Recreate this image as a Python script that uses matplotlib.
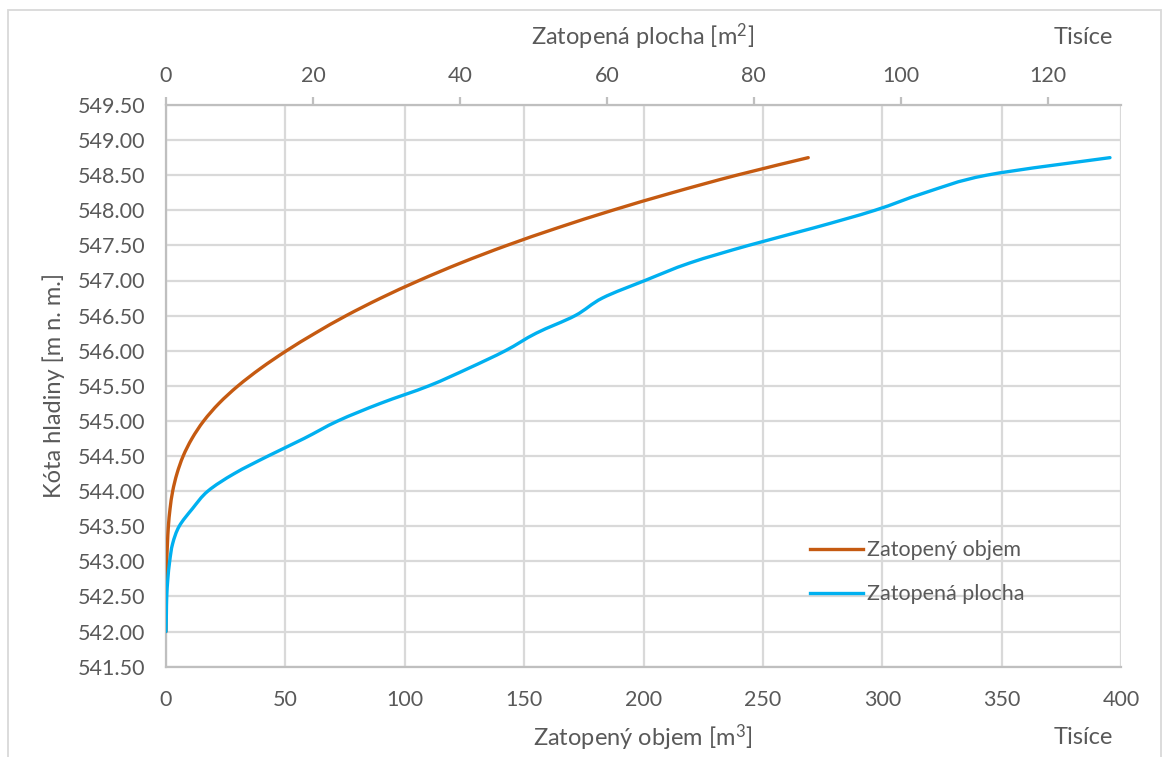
import matplotlib
matplotlib.use("Agg")
import matplotlib.pyplot as plt
from matplotlib.path import Path
from matplotlib.patches import PathPatch, Rectangle
from matplotlib.lines import Line2D
import numpy as np

plt.rcParams['font.family'] = ['Lato', 'DejaVu Sans']
plt.rcParams['mathtext.default'] = 'regular'

# Water level [m a.s.l.]
levels = [542.00, 542.25, 542.50, 542.75, 543.00, 543.25, 543.50, 543.75,
          544.00, 544.25, 544.50, 544.75, 545.00, 545.25, 545.50, 545.75,
          546.00, 546.25, 546.50, 546.75, 547.00, 547.25, 547.50, 547.75,
          548.00, 548.25, 548.50, 548.75]

# Flooded volume [thousand m3]
volume = [0.0, 0.01, 0.03, 0.1, 0.3, 0.6, 1.0, 1.7,
          2.8, 4.6, 7.2, 10.9, 15.8, 22.2, 30.2, 39.7,
          50.5, 62.5, 75.5, 90.0, 106.0, 123.5, 142.8, 164.0,
          187.0, 212.0, 239.0, 269.0]

# Flooded area [thousand m2]
area = [0.0, 0.05, 0.1, 0.25, 0.5, 0.9, 1.8, 3.6,
        5.7, 9.3, 13.9, 18.8, 23.4, 29.2, 35.8, 41.2,
        46.2, 50.4, 55.7, 59.4, 65.2, 71.3, 79.3, 88.2,
        96.5, 103.3, 111.7, 128.5]

y_ticks = np.arange(541.5, 549.51, 0.5)
x_bottom_ticks = [0, 50, 100, 150, 200, 250, 300, 350, 400]
x_top_ticks = [0, 20, 40, 60, 80, 100, 120]

ORANGE = '#C55A11'
BLUE = '#00B0F0'
TXT = '#595959'
GRID = '#D9D9D9'
AXIS = '#BFBFBF'


def smooth_path(xs, ys):
    """Cubic Bezier path through the points (cardinal spline, like Excel smoothing)."""
    pts = np.column_stack([xs, ys]).astype(float)
    n = len(pts)
    verts = [pts[0]]
    codes = [Path.MOVETO]
    for i in range(n - 1):
        p_prev = pts[i - 1] if i > 0 else pts[i]
        p0 = pts[i]
        p1 = pts[i + 1]
        p_next = pts[i + 2] if i + 2 < n else pts[i + 1]
        c1 = p0 + (p1 - p_prev) / 6.0
        c2 = p1 - (p_next - p0) / 6.0
        verts += [c1, c2, p1]
        codes += [Path.CURVE4] * 3
    return Path(verts, codes)


W, H = 1169, 757
fig = plt.figure(figsize=(W / 100, H / 100), dpi=100)
fig.patch.set_facecolor('white')

# outer chart frame
fig.patches.append(Rectangle((8 / W, -0.01), (1161 - 8) / W, 1 - 10 / H + 0.01,
                             transform=fig.transFigure, fill=False,
                             edgecolor='#D9D9D9', linewidth=1.3))

left, right, top, bottom = 166, 1121, 105, 666.6
ax = fig.add_axes([left / W, 1 - bottom / H, (right - left) / W, (bottom - top) / H])
ax2 = ax.twiny()

# bottom axis: volume
ax.set_xlim(0, 400)
ax.set_ylim(541.5, 549.5)
ax.set_xticks(x_bottom_ticks)
ax.set_yticks(y_ticks)
ax.set_yticklabels([f"{v:.2f}" for v in y_ticks])
ax.grid(True, color=GRID, linewidth=1.6)
ax.set_axisbelow(True)
ax.tick_params(axis='both', length=0, labelsize=15.5, labelcolor=TXT)
ax.tick_params(axis='y', pad=15)
ax.tick_params(axis='x', pad=17)
for s in ['top', 'right']:
    ax.spines[s].set_visible(False)
for s in ['left', 'bottom']:
    ax.spines[s].set_color(AXIS)
    ax.spines[s].set_linewidth(1.6)

# top axis: area
ax2.set_xlim(0, 130)
ax2.set_xticks(x_top_ticks)
ax2.tick_params(axis='x', direction='out', length=6, width=1.6, color=AXIS,
                labelsize=15.5, labelcolor=TXT, pad=8)
for s in ['left', 'right', 'bottom']:
    ax2.spines[s].set_visible(False)
ax2.spines['top'].set_color(AXIS)
ax2.spines['top'].set_linewidth(1.6)

ax.add_patch(PathPatch(smooth_path(volume, levels), fill=False,
                       edgecolor=ORANGE, linewidth=2.4, capstyle='round', zorder=3))
ax2.add_patch(PathPatch(smooth_path(area, levels), fill=False,
                        edgecolor=BLUE, linewidth=2.4, capstyle='round', zorder=3))

handles = [Line2D([], [], color=ORANGE, linewidth=2.4),
           Line2D([], [], color=BLUE, linewidth=2.4)]
fig.legend(handles, ['Zatopený objem', 'Zatopená plocha'],
           loc='upper left', bbox_to_anchor=(791 / W, 1 - 521 / H),
           frameon=False, fontsize=15.5, labelcolor=TXT,
           handlelength=2.45, handletextpad=0.2, labelspacing=1.1)

# axis titles
TSIZE = 17
fig.text(54 / W, 1 - 385.5 / H, 'Kóta hladiny [m n. m.]', rotation=90,
         ha='center', va='center', fontsize=TSIZE, color=TXT)
fig.text(643 / W, 1 - 738 / H, 'Zatopený objem [m$^{3}$]', ha='center', va='center',
         fontsize=TSIZE, color=TXT)
fig.text(1113 / W, 1 - 738 / H, 'Tisíce', ha='right', va='center',
         fontsize=TSIZE, color=TXT)
fig.text(643 / W, 1 - 37 / H, 'Zatopená plocha [m$^{2}$]', ha='center', va='center',
         fontsize=TSIZE, color=TXT)
fig.text(1113 / W, 1 - 37 / H, 'Tisíce', ha='right', va='center',
         fontsize=TSIZE, color=TXT)

fig.savefig('out.png', dpi=100)
